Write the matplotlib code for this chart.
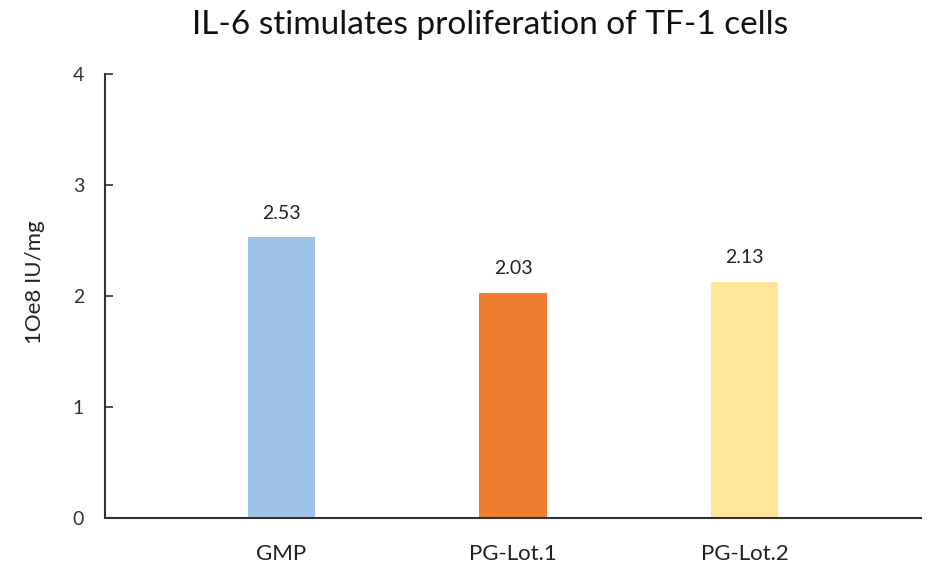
import matplotlib
matplotlib.use("Agg")
import matplotlib.pyplot as plt

categories = ["GMP", "PG-Lot.1", "PG-Lot.2"]
values = [2.53, 2.03, 2.13]
labels = ["2.53", "2.03", "2.13"]
colors = ["#9DC3E6", "#ED7D31", "#FFE699"]
yticks = [0, 1, 2, 3, 4]

plt.rcParams['font.family'] = ['Lato', 'DejaVu Sans']

W, H = 931, 568
fig = plt.figure(figsize=(W/100, H/100), dpi=100)
ax = fig.add_axes([105/W, (H-518)/H, (921-105)/W, (518-74)/H])

x = list(range(len(categories)))
ax.bar(x, values, width=0.29, color=colors, zorder=2)
for xi, v, lab in zip(x, values, labels):
    ax.text(xi, v + 0.14, lab, ha='center', va='bottom', fontsize=14, color='#222222')

ax.set_xlim(-0.76, 2.76)
ax.set_ylim(0, 4)
ax.set_yticks(yticks)
ax.set_yticklabels([str(t) for t in yticks], fontsize=14, color='#333333')
ax.set_xticks(x)
ax.set_xticklabels(categories, fontsize=16, color='#222222')
ax.tick_params(axis='x', length=0, pad=19)
ax.tick_params(axis='y', direction='in', length=6, width=1.2, pad=15, colors='#333333')
for s in ['top', 'right']:
    ax.spines[s].set_visible(False)
for s in ['left', 'bottom']:
    ax.spines[s].set_linewidth(1.5)
    ax.spines[s].set_color('#333333')

ax.set_ylabel("1Oe8 IU/mg", fontsize=16, color='#222222')
ax.yaxis.set_label_coords((45 - 105) / (921 - 105), 1 - (282 - 74) / (518 - 74))

fig.text(490/W, 1 - 25/H, "IL-6 stimulates proliferation of TF-1 cells",
         ha='center', va='center', fontsize=24, color='#111111')

fig.savefig("out.png", dpi=100, facecolor='white')
